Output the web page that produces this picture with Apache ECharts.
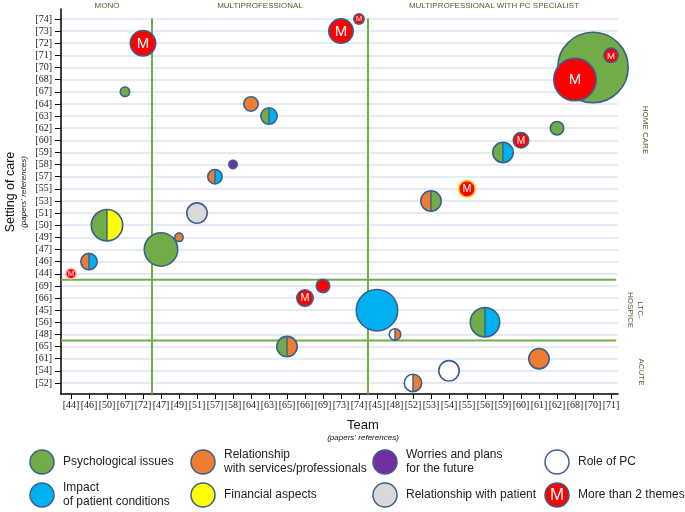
<!DOCTYPE html>
<html><head><meta charset="utf-8">
<script src="https://cdn.jsdelivr.net/npm/echarts@6/dist/echarts.min.js"></script>
<style>html,body{margin:0;padding:0;background:#fff}#c{width:685px;height:512px}</style>
</head><body><div id="c"></div>
<script>
// ---------- DATA ----------
const teamLabels = ['[44]','[46]','[50]','[67]','[72]','[47]','[49]','[51]','[57]','[58]','[64]','[63]','[65]','[66]','[69]','[73]','[74]','[45]','[48]','[52]','[53]','[54]','[55]','[56]','[59]','[60]','[61]','[62]','[68]','[70]','[71]'];
const settingLabels = ['[74]','[73]','[72]','[71]','[70]','[68]','[67]','[64]','[63]','[62]','[60]','[59]','[58]','[57]','[55]','[53]','[51]','[50]','[49]','[47]','[46]','[44]','[69]','[66]','[45]','[56]','[48]','[65]','[61]','[54]','[52]'];
const teamGroups = ['MONO','MULTIPROFESSIONAL','MULTIPROFESSIONAL WITH PC SPECIALIST'];
const teamGroupSizes = [5, 12, 14];
const settingGroups = ['HOME CARE','LTC-\nHOSPICE','ACUTE'];
const settingGroupSizes = [22, 5, 4];

const paperRefs  = ['[44]','[46]','[50]','[67]','[72]','[47]','[49]','[51]','[57]','[58]','[64]','[63]','[65]','[66]','[69]','[73]','[74]','[45]','[48]','[52]','[53]','[54]','[55]','[56]','[59]','[60]','[61]','[62]','[68]','[70]','[71]'];
const paperSizes = [12, 18, 33, 11, 27, 35, 10, 22, 16, 10, 16, 18, 22, 18, 15, 26, 12, 43, 13, 19, 22, 22, 18, 31, 22, 17, 22, 15, 44, 72, 16];
const paperThemes = [
  ['M'], ['REL','IMP'], ['PSY','FIN'], ['PSY'], ['M'], ['PSY'], ['REL'], ['PAT'], ['REL','IMP'], ['WOR'],
  ['REL'], ['PSY','IMP'], ['PSY','REL'], ['M'], ['M-'], ['M'], ['M'], ['IMP'], ['ROLE','REL'], ['ROLE','REL'],
  ['REL','PSY'], ['ROLE'], ['M'], ['PSY','IMP'], ['PSY','IMP'], ['M'], ['REL'], ['PSY'], ['M'], ['PSY'], ['M']
];

const themeCodes = ['PSY','REL','WOR','ROLE','IMP','FIN','PAT','M'];
const themeNames = ['Psychological issues','Relationship\nwith services/professionals','Worries and plans\nfor the future','Role of PC','Impact\nof patient conditions','Financial aspects','Relationship with patient','More than 2 themes'];

// ---------- STYLE ----------
const themeColors = {PSY:'#70ad47', REL:'#ed7d31', WOR:'#7030a0', ROLE:'#ffffff', IMP:'#00b0f0', FIN:'#ffff00', PAT:'#d9d9d9', M:'#ff0000', 'M-':'#ff0000'};
const borderColor = '#3b5f8f';
const specialBorder = {'[55]':'#ffc000', '[44]':'#f2b8b8'};
const green = '#70ad47';
const groupText = '#4f6228';

const bubbleData = paperRefs.map((ref, i) => [teamLabels.indexOf(ref), settingLabels.indexOf(ref), paperSizes[i], i])
  .sort((a, b) => b[2] - a[2]);

function renderBubble(params, api) {
  const i = api.value(3);
  const p = api.coord([api.value(0), api.value(1)]);
  const d = api.value(2);
  const r = d / 2 - 0.8;
  const th = paperThemes[i];
  const stroke = specialBorder[paperRefs[i]] || borderColor;
  const children = [];
  if (th.length === 1) {
    children.push({type:'circle', shape:{cx:p[0], cy:p[1], r:r}, style:{fill:themeColors[th[0]], stroke:stroke, lineWidth:1.6}});
  } else {
    children.push({type:'sector', shape:{cx:p[0], cy:p[1], r:r, r0:0, startAngle:Math.PI/2, endAngle:Math.PI*1.5, clockwise:true}, style:{fill:themeColors[th[0]]}});
    children.push({type:'sector', shape:{cx:p[0], cy:p[1], r:r, r0:0, startAngle:-Math.PI/2, endAngle:Math.PI/2, clockwise:true}, style:{fill:themeColors[th[1]]}});
    children.push({type:'line', shape:{x1:p[0], y1:p[1]-r, x2:p[0], y2:p[1]+r}, style:{stroke:stroke, lineWidth:1.4}});
    children.push({type:'circle', shape:{cx:p[0], cy:p[1], r:r}, style:{fill:'none', stroke:stroke, lineWidth:1.6}});
  }
  if (th[0] === 'M') {
    children.push({type:'text', style:{text:'M', x:p[0], y:p[1]+0.5, align:'center', verticalAlign:'middle', fill:'#fff', fontSize:Math.min(d*0.6, 15), fontFamily:'Liberation Sans, Arial, sans-serif'}});
  }
  return {type:'group', children:children};
}

// divider positions from group sizes
function boundaries(sizes) {
  const out = []; let acc = 0;
  for (let k = 0; k < sizes.length - 1; k++) { acc += sizes[k]; out.push(acc - 0.5); }
  return out;
}
const xMin = -0.555, xMax = 30.39, yMin = -0.82, yMax = 30.91;
const idxX = teamLabels.map((_, i) => i);
const idxY = settingLabels.map((_, i) => i);

const dividerSeries = [];
boundaries(teamGroupSizes).forEach(b => dividerSeries.push({type:'line', data:[[b, -0.05],[b, yMax]], showSymbol:false, silent:true, z:1, lineStyle:{color:green, width:2}}));
boundaries(settingGroupSizes).forEach(b => dividerSeries.push({type:'line', data:[[xMin, b],[xMax - 0.1, b]], showSymbol:false, silent:true, z:1, lineStyle:{color:green, width:2}}));

const chart = echarts.init(document.getElementById('c'));
const option = {
  animation:false,
  backgroundColor:'#fff',
  grid:{left:61, right:67, top:9, bottom:118},
  xAxis:{type:'value', min:xMin, max:xMax,
    axisLine:{onZero:false, lineStyle:{color:'#000', width:1.5}},
    axisTick:{customValues:idxX, length:5, lineStyle:{color:'#000', width:1}},
    axisLabel:{customValues:idxX, formatter:v => teamLabels[v] || '', fontFamily:'Liberation Serif, Times New Roman, serif', fontSize:10, color:'#222', margin:6},
    splitLine:{show:false}},
  yAxis:{type:'value', inverse:true, min:yMin, max:yMax,
    axisLine:{show:true, onZero:false, lineStyle:{color:'#000', width:1.5}},
    axisTick:{show:true, customValues:idxY, length:6, lineStyle:{color:'#000', width:1}},
    axisLabel:{customValues:idxY, formatter:v => settingLabels[v] || '', fontFamily:'Liberation Serif, Times New Roman, serif', fontSize:10, color:'#222', margin:9},
    splitLine:{show:true, lineStyle:{color:'#e4ebf2', width:2}}},
  series:[
    ...dividerSeries,
    {type:'custom', renderItem:renderBubble, data:bubbleData, encode:{x:0, y:1}, clip:false, z:3}
  ]
};
chart.setOption(option);

// ---------- TEXT & LEGEND ----------
const g = [];
let acc = 0;
teamGroups.forEach((name, k) => {
  const c = acc + (teamGroupSizes[k] - 1) / 2; acc += teamGroupSizes[k];
  const px = chart.convertToPixel({gridIndex:0}, [c, 0]);
  g.push({type:'text', x:px[0], y:6, style:{text:name, align:'center', verticalAlign:'middle', fill:groupText, fontSize:8, fontFamily:'Liberation Sans, Arial, sans-serif'}});
});
const settingLabelPos = [[645, 130], [635, 310], [641, 372]];
settingGroups.forEach((name, k) => {
  g.push({type:'text', x:settingLabelPos[k][0], y:settingLabelPos[k][1], rotation:-Math.PI/2,
    style:{text:name, align:'center', verticalAlign:'middle', fill:groupText, fontSize:8, lineHeight:10, fontFamily:'Liberation Sans, Arial, sans-serif'}});
});
g.push({type:'text', x:363, y:425, style:{text:'Team', align:'center', verticalAlign:'middle', fill:'#111', fontSize:13, fontFamily:'Liberation Sans, Arial, sans-serif'}});
g.push({type:'text', x:363, y:438, style:{text:'(papers\u2019 references)', align:'center', verticalAlign:'middle', fill:'#111', fontSize:8, fontStyle:'italic', fontFamily:'Liberation Sans, Arial, sans-serif'}});
g.push({type:'text', x:11, y:192, rotation:Math.PI/2, style:{text:'Setting of care', align:'center', verticalAlign:'middle', fill:'#111', fontSize:12.5, fontFamily:'Liberation Sans, Arial, sans-serif'}});
g.push({type:'text', x:24, y:192, rotation:Math.PI/2, style:{text:'(papers\u2019 references)', align:'center', verticalAlign:'middle', fill:'#111', fontSize:8, fontStyle:'italic', fontFamily:'Liberation Sans, Arial, sans-serif'}});

const legendPos = [[42,462],[203,462],[385,462],[557,462],[42,495],[203,495],[385,495],[557,495]];
themeCodes.forEach((code, k) => {
  const [lx, ly] = legendPos[k];
  g.push({type:'circle', shape:{cx:lx, cy:ly, r:12}, style:{fill:themeColors[code], stroke:borderColor, lineWidth:1.5}});
  if (code === 'M') g.push({type:'text', x:lx, y:ly+0.5, style:{text:'M', align:'center', verticalAlign:'middle', fill:'#fff', fontSize:17, fontFamily:'Liberation Sans, Arial, sans-serif'}});
  g.push({type:'text', x:lx + 21, y:ly, style:{text:themeNames[k], align:'left', verticalAlign:'middle', fill:'#222', fontSize:12, lineHeight:14, fontFamily:'Liberation Sans, Arial, sans-serif'}});
});
chart.setOption({graphic:g});
</script>
</body></html>
